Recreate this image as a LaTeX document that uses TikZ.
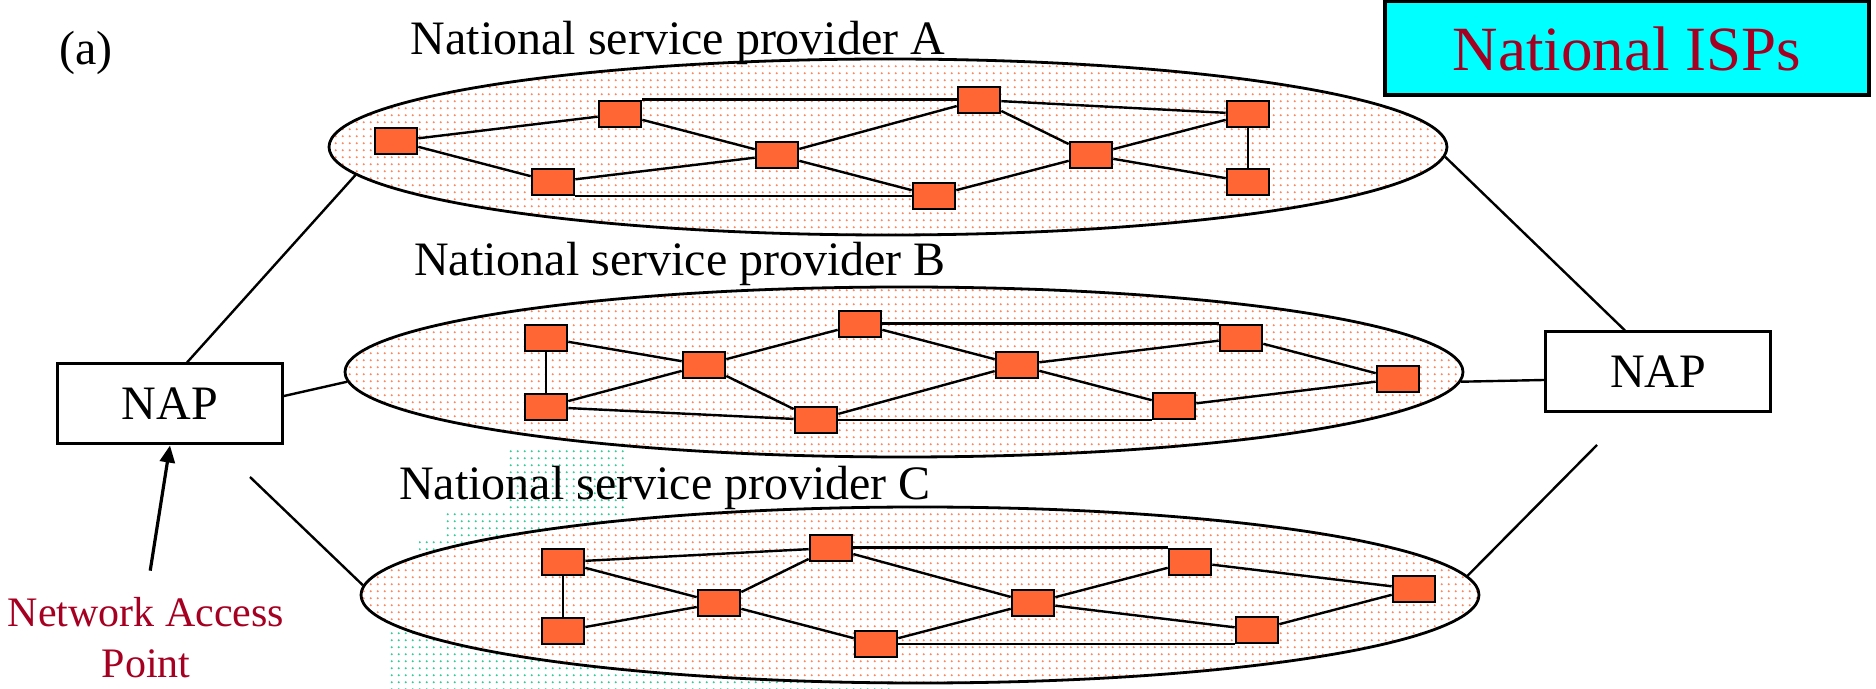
\documentclass[tikz,border=0pt]{standalone}
\usepackage{fontspec}
\setmainfont{Liberation Serif}
\usetikzlibrary{shapes.geometric,patterns,patterns.meta,arrows.meta}
\definecolor{routerorange}{HTML}{FF6633}
\definecolor{dotgreen}{HTML}{33CC99}
\definecolor{ispred}{HTML}{A50021}
\definecolor{titlecyan}{HTML}{00FFFF}

\pgfdeclarepattern{
  name=ispdots,
  type=uncolored,
  bottom left={\pgfpoint{-1pt}{-1pt}},
  top right={\pgfpoint{2.5pt}{2.5pt}},
  tile size={\pgfpoint{3.5pt}{3.5pt}},
  code={\pgfpathcircle{\pgfpointorigin}{0.7pt}\pgfusepath{fill}}
}

\begin{document}
\begin{tikzpicture}[
  x=0.5pt, y=-0.5pt,
  router/.style={rectangle, draw, line width=1.3pt, fill=routerorange,
    minimum width=21pt, minimum height=13pt, inner sep=0pt},
  isp/.style={ellipse, draw, line width=1.4pt, preaction={fill=white},
    pattern=ispdots, pattern color=routerorange!80, minimum width=559pt, inner sep=0pt},
  link/.style={line width=1.2pt},
  napbox/.style={rectangle, draw, line width=1.5pt, fill=white,
    minimum width=112.5pt, minimum height=40pt, font=\fontsize{24}{28}\selectfont},
  provtext/.style={font=\fontsize{24}{28}\selectfont, anchor=base, inner sep=0pt},
  ]
  \useasboundingbox (0,0) rectangle (1876,689);

  % dotted patch behind provider C
  \fill[pattern=ispdots, pattern color=dotgreen]
    (386,689) -- (386,632) -- (419,632) -- (419,540) -- (443,540) -- (443,513)
    -- (508,513) -- (508,450) -- (625,450) -- (625,560) -- (890,560) -- (890,689) -- cycle;

  \node[provtext] at (86,65) {(a)};

  \node[
  rectangle,
  draw,
  line width=2pt,
  fill=titlecyan,
  minimum width=242pt,
  minimum height=47pt,
  text height=23pt,
  text depth=0pt,
  text=ispred,
  font=\fontsize{31.5}{36}\selectfont,
  ] (title) at (1627,48) {National ISPs};

  % providers
  \node[isp, minimum height=88pt] (ellA) at (888,147) {};
  \node[isp, minimum height=85pt] (ellB) at (904,372) {};
  \node[isp, minimum height=88pt] (ellC) at (920,595) {};

  \node[provtext] (provA) at (678,55) {National service provider A};
  \node[provtext] (provB) at (680,276) {National service provider B};
  \node[provtext] (provC) at (665,500) {National service provider C};

  % access points
  \node[napbox] (napL) at (170,404) {NAP};
  \node[napbox] (napR) at (1658,372) {NAP};

  \node[
  align=center,
  inner sep=0pt,
  text=ispred,
  font=\fontsize{21}{25.5}\selectfont,
  ] (netlabel) at (146,638) {Network Access\\Point};

  \coordinate (capL) at (250,477);
  \coordinate (capR) at (1597,445);

  \draw[link] ([xshift=8.5pt]napL.north) -- (ellA.183);
  \draw[link] ([yshift=4pt]napL.east) -- (ellB.181);
  \draw[link] (capL) -- (ellC.179);
  \draw[link] ([xshift=-16.5pt]napR.north) -- (ellA.-1);
  \draw[link] ([yshift=-4pt]napR.west) -- (ellB.-1);
  \draw[link] (capR) -- (ellC.2);

  \draw[-{Triangle[length=8.5pt,width=7.5pt]}, line width=1.6pt, shorten <=13.5pt]
    (netlabel.north) -- (napL.south);

  % routers of A
  \node[router] (a1) at (396,141) {};
  \node[router] (a2) at (620,114) {};
  \node[router] (a3) at (553,182) {};
  \node[router] (a4) at (777,155) {};
  \node[router] (a5) at (934,196) {};
  \node[router] (a6) at (979,100) {};
  \node[router] (a7) at (1091,155) {};
  \node[router] (a8) at (1248,114) {};
  \node[router] (a9) at (1248,182) {};

  \draw[link] (a1)--(a2);
  \draw[link] (a1)--(a3);
  \draw[link] (a2)--(a4);
  \draw[link] (a3)--(a4);
  \draw[link] (a4)--(a5);
  \draw[link] (a4)--(a6);
  \draw[link] (a2.north east)--(a2.north east -| a6.west);
  \draw[link] (a3.south east)--(a3.south east -| a5.west);
  \draw[link] (a5)--(a7);
  \draw[link] (a6)--(a7);
  \draw[link] (a6)--(a8);
  \draw[link] (a7)--(a8);
  \draw[link] (a7)--(a9);
  \draw[link] (a8)--(a9);

  % routers of B
  \node[router] (b1) at (546,338) {};
  \node[router] (b2) at (546,407) {};
  \node[router] (b3) at (704,365) {};
  \node[router] (b4) at (860,324) {};
  \node[router] (b5) at (816,420) {};
  \node[router] (b6) at (1017,365) {};
  \node[router] (b7) at (1241,338) {};
  \node[router] (b8) at (1174,406) {};
  \node[router] (b9) at (1398,379) {};

  \draw[link] (b1)--(b2);
  \draw[link] (b1)--(b3);
  \draw[link] (b2)--(b3);
  \draw[link] (b2)--(b5);
  \draw[link] (b3)--(b4);
  \draw[link] (b3)--(b5);
  \draw[link] (b7.north west -| b4.east)--(b7.north west);
  \draw[link] (b4)--(b6);
  \draw[link] (b5)--(b6);
  \draw[link] (b8.south west -| b5.east)--(b8.south west);
  \draw[link] (b6)--(b7);
  \draw[link] (b6)--(b8);
  \draw[link] (b7)--(b9);
  \draw[link] (b8)--(b9);

  % routers of C
  \node[router] (c1) at (563,562) {};
  \node[router] (c2) at (563,631) {};
  \node[router] (c3) at (719,603) {};
  \node[router] (c4) at (831,548) {};
  \node[router] (c5) at (876,644) {};
  \node[router] (c6) at (1033,603) {};
  \node[router] (c7) at (1190,562) {};
  \node[router] (c8) at (1257,630) {};
  \node[router] (c9) at (1414,589) {};

  \draw[link] (c1)--(c2);
  \draw[link] (c1)--(c4);
  \draw[link] (c1)--(c3);
  \draw[link] (c2)--(c3);
  \draw[link] (c3)--(c4);
  \draw[link] (c3)--(c5);
  \draw[link] (c7.north west -| c4.east)--(c7.north west);
  \draw[link] (c4)--(c6);
  \draw[link] (c5)--(c6);
  \draw[link] (c8.south west -| c5.east)--(c8.south west);
  \draw[link] (c6)--(c7);
  \draw[link] (c6)--(c8);
  \draw[link] (c7)--(c9);
  \draw[link] (c8)--(c9);
\end{tikzpicture}
\end{document}
